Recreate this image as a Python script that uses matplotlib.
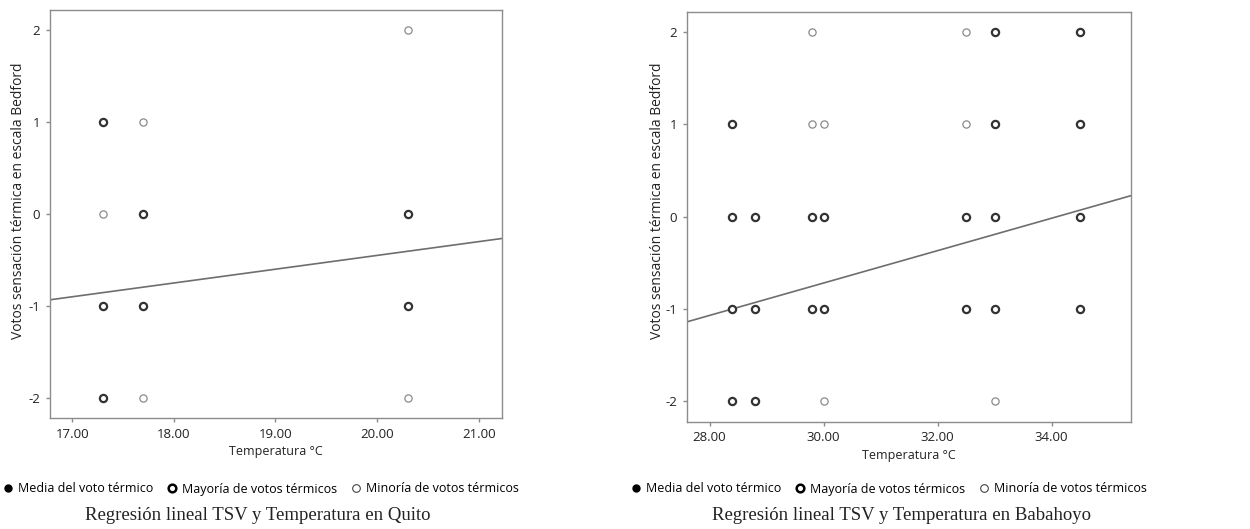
import numpy as np
import matplotlib
matplotlib.use("Agg")
import matplotlib.pyplot as plt
from matplotlib.lines import Line2D

plt.rcParams['font.family'] = ['Open Sans', 'DejaVu Sans']
plt.rcParams['axes.unicode_minus'] = False

# Quito: temperatures, votes, type (1 = mayoria, 0 = minoria)
quito_temp = [17.3, 17.3, 17.3, 17.3, 17.7, 17.7, 17.7, 17.7, 20.3, 20.3, 20.3, 20.3]
quito_vote = [1, 0, -1, -2, 1, 0, -1, -2, 2, 0, -1, -2]
quito_major = [1, 0, 1, 1, 0, 1, 1, 0, 0, 1, 1, 0]
quito_slope, quito_icpt = 0.150, -3.45

# Babahoyo
baba_temp = [28.4, 28.4, 28.4, 28.4,
             28.8, 28.8, 28.8,
             29.8, 29.8, 29.8, 29.8,
             30.0, 30.0, 30.0, 30.0,
             32.5, 32.5, 32.5, 32.5,
             33.0, 33.0, 33.0, 33.0, 33.0,
             34.5, 34.5, 34.5, 34.5]
baba_vote = [1, 0, -1, -2,
             0, -1, -2,
             2, 1, 0, -1,
             1, 0, -1, -2,
             2, 1, 0, -1,
             2, 1, 0, -1, -2,
             2, 1, 0, -1]
baba_major = [1, 1, 1, 1,
              1, 1, 1,
              0, 0, 1, 1,
              0, 1, 1, 0,
              0, 0, 1, 1,
              1, 1, 1, 1, 0,
              1, 1, 1, 1]
baba_slope, baba_icpt = 0.1754, -5.98

legend_labels = ["Media del voto térmico", "Mayoría de votos térmicos", "Minoría de votos térmicos"]

fig = plt.figure(figsize=(12.5, 5.29), dpi=100)


def panel(rect, temp, vote, major, slope, icpt, xlim, xticks, caption, leg_x, cap_x, ylab_pos):
    ax = fig.add_axes(rect)
    temp = np.array(temp)
    vote = np.array(vote)
    major = np.array(major, dtype=bool)
    ax.plot(temp[major], vote[major], 'o', ms=5.2, mfc='white', mec='#333333', mew=1.6, ls='none', zorder=3)
    ax.plot(temp[~major], vote[~major], 'o', ms=5.2, mfc='white', mec='#8a8a8a', mew=0.9, ls='none', zorder=3)
    xs = np.array(xlim)
    ax.plot(xs, icpt + slope * xs, color='#6e6e6e', lw=1.2, zorder=2)
    ax.set_xlim(xlim)
    ax.set_ylim(-2.22, 2.22)
    ax.set_xticks(xticks)
    ax.set_xticklabels(["%.2f" % t for t in xticks])
    ax.set_yticks([-2, -1, 0, 1, 2])
    ax.set_xlabel("Temperatura °C", fontsize=9, labelpad=3, color='#222222')
    ax.set_ylabel("Votos sensación térmica en escala Bedford", fontsize=10, color='#222222')
    ax.yaxis.set_label_coords(*ylab_pos)
    for s in ax.spines.values():
        s.set_color('#8c8c8c')
        s.set_linewidth(1.0)
    ax.tick_params(labelsize=9.5, color='#8c8c8c', length=3, width=1, labelcolor='#222222', pad=4)

    handles = [
        Line2D([], [], marker='o', ls='none', ms=5, mfc='black', mec='black'),
        Line2D([], [], marker='o', ls='none', ms=5.5, mfc='white', mec='black', mew=1.8),
        Line2D([], [], marker='o', ls='none', ms=5.5, mfc='white', mec='#444444', mew=0.8),
    ]
    fig.legend(handles, legend_labels, loc='center', bbox_to_anchor=(leg_x, 1 - 489 / 529),
               ncol=3, frameon=False, fontsize=9, handletextpad=0.3, columnspacing=1.0,
               handlelength=1.0, borderaxespad=0)
    fig.text(cap_x, 1 - 516 / 529, caption, ha='center', va='center',
             fontsize=13.5, family='Liberation Serif', color='#222222')
    return ax


panel([0.04, 0.2098, 0.3616, 0.771], quito_temp, quito_vote, quito_major,
      quito_slope, quito_icpt, (16.78, 21.23), [17, 18, 19, 20, 21],
      "Regresión lineal TSV y Temperatura en Quito", 260 / 1250, 258 / 1250, (-0.052, 0.532))

panel([0.5494, 0.2028, 0.3552, 0.775], baba_temp, baba_vote, baba_major,
      baba_slope, baba_icpt, (27.6, 35.39), [28, 30, 32, 34],
      "Regresión lineal TSV y Temperatura en Babahoyo", 888 / 1250, 902 / 1250, (-0.05, 0.538))

fig.savefig("out.png", dpi=100)
